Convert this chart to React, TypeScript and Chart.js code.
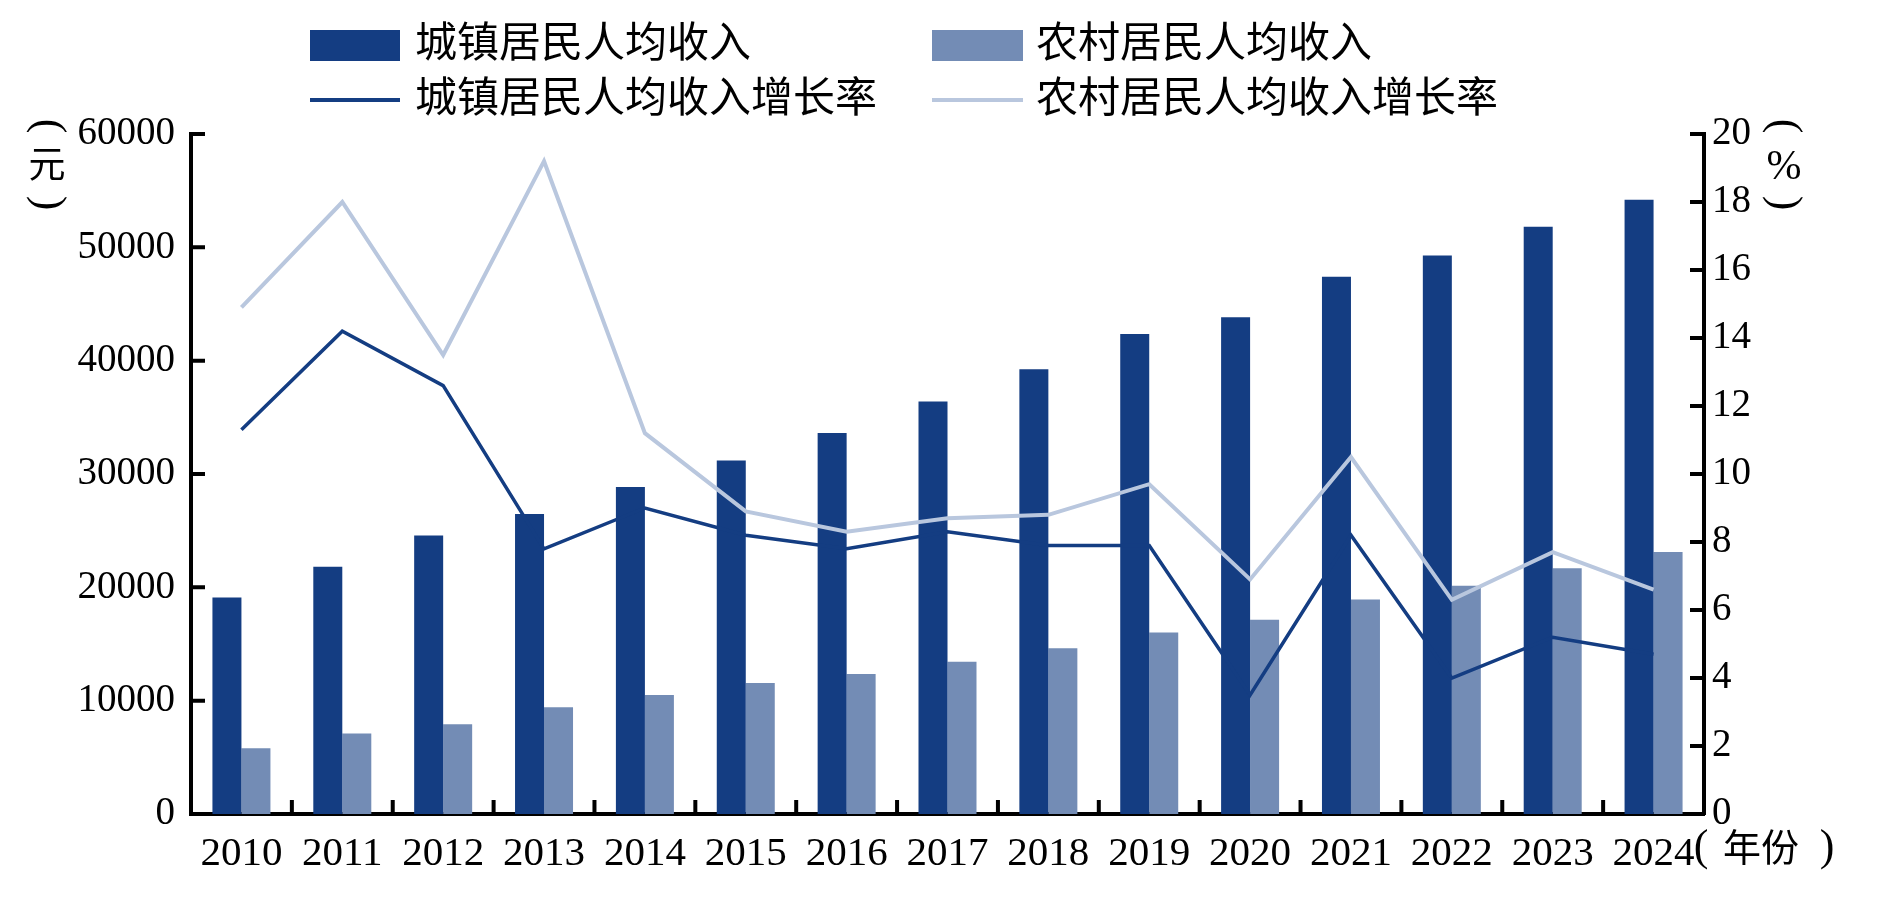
import React, { useEffect, useRef } from "react";
import { Chart, registerables } from "chart.js";

Chart.register(...registerables);

const years = ["2010", "2011", "2012", "2013", "2014", "2015", "2016", "2017", "2018", "2019", "2020", "2021", "2022", "2023", "2024"];
const urbanIncome = [19109, 21810, 24565, 26467, 28844, 31195, 33616, 36396, 39251, 42359, 43834, 47412, 49283, 51821, 54188];
const ruralIncome = [5800, 7100, 7917, 9430, 10489, 11550, 12363, 13432, 14617, 16021, 17131, 18931, 20133, 21691, 23119];
const urbanGrowth = [11.3, 14.2, 12.6, 7.8, 9.0, 8.2, 7.8, 8.3, 7.9, 7.9, 3.5, 8.2, 4.0, 5.2, 4.7];
const ruralGrowth = [14.9, 18.0, 13.5, 19.2, 11.2, 8.9, 8.3, 8.7, 8.8, 9.7, 6.9, 10.5, 6.3, 7.7, 6.6];

const seriesNames = ["城镇居民人均收入", "农村居民人均收入", "城镇居民人均收入增长率", "农村居民人均收入增长率"];

const DARK = "#143d82";
const MID = "#738cb5";
const LIGHT = "#b9c7de";
const FONT = "'Liberation Serif', 'Noto Sans CJK SC', serif";

const innerTicks = {
  id: "innerTicks",
  afterDraw(chart: any) {
    const { ctx, chartArea } = chart;
    const y = chart.scales.y;
    const y1 = chart.scales.y1;
    const x = chart.scales.x;
    const len = 14;
    ctx.save();
    ctx.strokeStyle = "#000";
    ctx.lineWidth = 4;
    ctx.beginPath();
    y.ticks.forEach((t: any) => {
      const py = y.getPixelForValue(t.value);
      ctx.moveTo(chartArea.left, py);
      ctx.lineTo(chartArea.left + len, py);
    });
    y1.ticks.forEach((t: any) => {
      const py = y1.getPixelForValue(t.value);
      ctx.moveTo(chartArea.right - len, py);
      ctx.lineTo(chartArea.right, py);
    });
    for (let i = 1; i < years.length; i++) {
      const px = (x.getPixelForValue(i - 1) + x.getPixelForValue(i)) / 2;
      ctx.moveTo(px, chartArea.bottom - len);
      ctx.lineTo(px, chartArea.bottom);
    }
    ctx.stroke();
    ctx.restore();
  },
};

function Centered({ cx, cy, children, rotate = 0, size = 37 }: any) {
  return (
    <span
      style={{
        position: "absolute",
        left: cx,
        top: cy,
        transform: `translate(-50%, -50%) rotate(${rotate}deg)`,
        fontFamily: FONT,
        fontSize: size,
        lineHeight: `${size}px`,
        whiteSpace: "nowrap",
        color: "#000",
      }}
    >
      {children}
    </span>
  );
}

export default function App() {
  const ref = useRef<HTMLCanvasElement>(null);

  useEffect(() => {
    if (!ref.current) return;
    const chart = new Chart(ref.current, {
      type: "bar",
      data: {
        labels: years,
        datasets: [
          {
            type: "line",
            label: seriesNames[2],
            data: urbanGrowth,
            yAxisID: "y1",
            borderColor: DARK,
            borderWidth: 3.5,
            pointRadius: 0,
            tension: 0,
            order: 1,
          } as any,
          {
            type: "line",
            label: seriesNames[3],
            data: ruralGrowth,
            yAxisID: "y1",
            borderColor: LIGHT,
            borderWidth: 4,
            pointRadius: 0,
            tension: 0,
            order: 0,
          } as any,
          {
            type: "bar",
            label: seriesNames[0],
            data: urbanIncome,
            yAxisID: "y",
            backgroundColor: DARK,
            categoryPercentage: 0.575,
            barPercentage: 1,
            order: 2,
          },
          {
            type: "bar",
            label: seriesNames[1],
            data: ruralIncome,
            yAxisID: "y",
            backgroundColor: MID,
            categoryPercentage: 0.575,
            barPercentage: 1,
            order: 3,
          },
        ],
      },
      options: {
        animation: false,
        responsive: false,
        devicePixelRatio: 1,
        layout: { padding: { top: 134, left: 0, right: 0, bottom: 0 } },
        plugins: { legend: { display: false }, tooltip: { enabled: false } },
        scales: {
          x: {
            grid: { display: false, drawTicks: false, tickLength: 0 },
            border: { display: true, color: "#000", width: 4 },
            ticks: { color: "#000", font: { family: FONT, size: 41 }, padding: 16, maxRotation: 0, autoSkip: false },
            afterFit: (s: any) => { s.height = 86; },
          },
          y: {
            position: "left",
            min: 0,
            max: 60000,
            grid: { display: false, drawTicks: false, tickLength: 0 },
            border: { display: true, color: "#000", width: 4 },
            ticks: { stepSize: 10000, color: "#000", font: { family: FONT, size: 39 }, padding: 16, callback: (v: any) => String(v) },
            afterFit: (s: any) => { s.width = 191; },
          },
          y1: {
            position: "right",
            min: 0,
            max: 20,
            grid: { display: false, drawTicks: false, tickLength: 0 },
            border: { display: true, color: "#000", width: 4 },
            ticks: { stepSize: 2, color: "#000", font: { family: FONT, size: 39 }, padding: 8, callback: (v: any) => String(v) },
            afterFit: (s: any) => { s.width = 180; },
          },
        },
      },
      plugins: [innerTicks],
    });
    return () => chart.destroy();
  }, []);

  const text: React.CSSProperties = {
    position: "absolute",
    fontFamily: FONT,
    fontSize: 42,
    lineHeight: "42px",
    color: "#000",
    whiteSpace: "nowrap",
  };

  return (
    <div style={{ position: "fixed", left: 0, top: 0, width: 1884, height: 900, background: "#fff", overflow: "hidden" }}>
      <canvas ref={ref} width={1884} height={900} style={{ position: "absolute", left: 0, top: 0, width: 1884, height: 900 }} />
      <div style={{ position: "absolute", left: 310, top: 30, width: 90, height: 31, background: DARK }} />
      <div style={{ ...text, left: 415, top: 22 }}>{seriesNames[0]}</div>
      <div style={{ position: "absolute", left: 932, top: 30, width: 91, height: 31, background: MID }} />
      <div style={{ ...text, left: 1036, top: 22 }}>{seriesNames[1]}</div>
      <div style={{ position: "absolute", left: 310, top: 98, width: 90, height: 4, background: DARK }} />
      <div style={{ ...text, left: 415, top: 77 }}>{seriesNames[2]}</div>
      <div style={{ position: "absolute", left: 932, top: 98, width: 91, height: 4, background: LIGHT }} />
      <div style={{ ...text, left: 1036, top: 77 }}>{seriesNames[3]}</div>

      <Centered cx={50} cy={126} rotate={90} size={44}>(</Centered>
      <Centered cx={47} cy={165} size={37}>元</Centered>
      <Centered cx={50} cy={203} rotate={90} size={44}>)</Centered>

      <Centered cx={1786} cy={126} rotate={90} size={44}>(</Centered>
      <Centered cx={1784} cy={165} size={42}>%</Centered>
      <Centered cx={1786} cy={203} rotate={90} size={44}>)</Centered>

      <Centered cx={1701} cy={846} size={44}>(</Centered>
      <div style={{ ...text, left: 1723, top: 829, fontSize: 38, lineHeight: "38px" }}>年份</div>
      <Centered cx={1827} cy={846} size={44}>)</Centered>
    </div>
  );
}
